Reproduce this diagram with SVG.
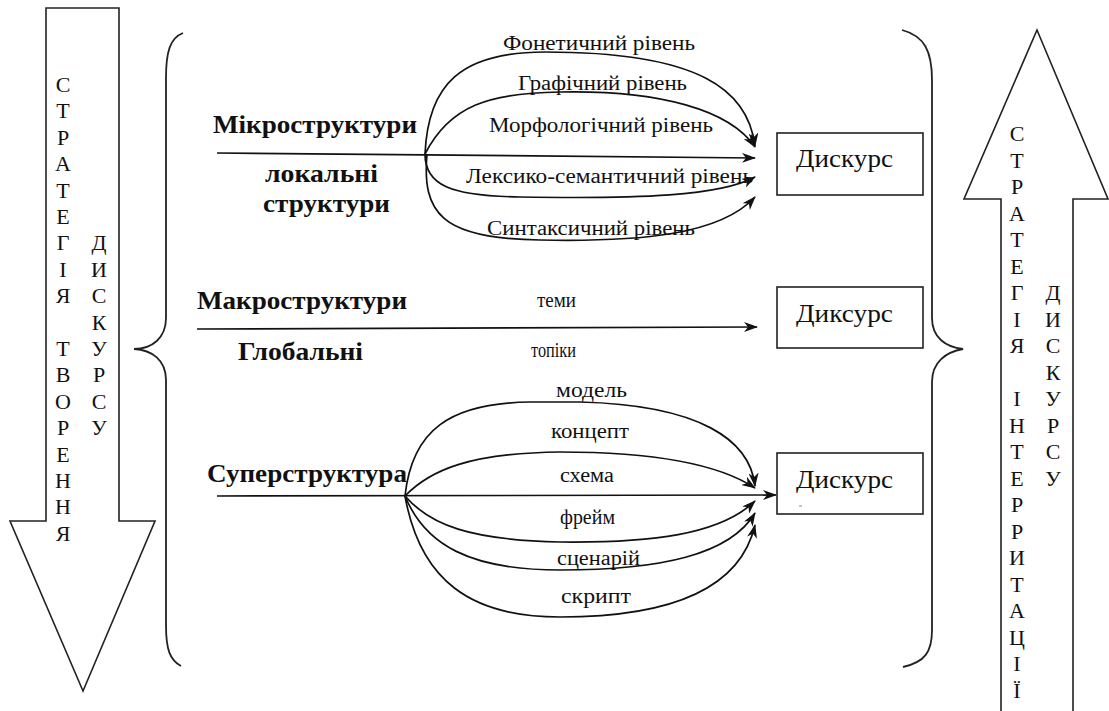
<svg xmlns="http://www.w3.org/2000/svg" width="1109" height="711" viewBox="0 0 1109 711">
<style>
  .sh{fill:#fff;stroke:#222;stroke-width:1.6}
  .br{fill:none;stroke:#222;stroke-width:1.8}
  .c{fill:none;stroke:#111;stroke-width:1.7}
  .box{fill:#fff;stroke:#222;stroke-width:1.6}
  text{font-family:'Liberation Serif','Times New Roman','DejaVu Serif',serif;fill:#111}
  .v{font-size:22px;text-anchor:middle}
  .b{font-size:26px;font-weight:bold}
  .l{font-size:20px}
  .d{font-size:25px}
</style>
<defs>
  <marker id="ah" viewBox="0 0 14 10" refX="13" refY="5" markerWidth="14" markerHeight="10" markerUnits="userSpaceOnUse" orient="auto">
    <path d="M0,0 L14,5 L0,10 L4,5 z" fill="#111"/>
  </marker>
</defs>

<g id="left-arrow">
  <polygon class="sh" points="46,8 119,8 119,521 155,521 83,691 10,521 46,521"/>
  <g>
    <text class="v" x="63" y="92">С</text><text class="v" x="63" y="118">Т</text><text class="v" x="63" y="145">Р</text><text class="v" x="63" y="171">А</text><text class="v" x="63" y="198">Т</text><text class="v" x="63" y="224">Е</text><text class="v" x="63" y="250">Г</text><text class="v" x="63" y="277">І</text><text class="v" x="63" y="303">Я</text>
    <text class="v" x="63" y="356">Т</text><text class="v" x="63" y="382">В</text><text class="v" x="63" y="409">О</text><text class="v" x="63" y="435">Р</text><text class="v" x="63" y="462">Е</text><text class="v" x="63" y="488">Н</text><text class="v" x="63" y="514">Н</text><text class="v" x="63" y="541">Я</text>
    <text class="v" x="99" y="250">Д</text><text class="v" x="99" y="277">И</text><text class="v" x="99" y="303">С</text><text class="v" x="99" y="330">К</text><text class="v" x="99" y="356">У</text><text class="v" x="99" y="382">Р</text><text class="v" x="99" y="409">С</text><text class="v" x="99" y="435">У</text>
  </g>
</g>

<g id="right-arrow">
  <polygon class="sh" points="1037,30 1108,199 1073,199 1073,716 1001,716 1001,199 964,199"/>
  <g>
    <text class="v" x="1017" y="141">С</text><text class="v" x="1017" y="168">Т</text><text class="v" x="1017" y="194">Р</text><text class="v" x="1017" y="221">А</text><text class="v" x="1017" y="247">Т</text><text class="v" x="1017" y="274">Е</text><text class="v" x="1017" y="300">Г</text><text class="v" x="1017" y="327">І</text><text class="v" x="1017" y="353">Я</text>
    <text class="v" x="1017" y="406">І</text><text class="v" x="1017" y="433">Н</text><text class="v" x="1017" y="459">Т</text><text class="v" x="1017" y="486">Е</text><text class="v" x="1017" y="512">Р</text><text class="v" x="1017" y="539">Р</text><text class="v" x="1017" y="565">И</text><text class="v" x="1017" y="592">Т</text><text class="v" x="1017" y="618">А</text><text class="v" x="1017" y="645">Ц</text><text class="v" x="1017" y="671">І</text><text class="v" x="1017" y="698">Ї</text>
    <text class="v" x="1053" y="300">Д</text><text class="v" x="1053" y="327">И</text><text class="v" x="1053" y="353">С</text><text class="v" x="1053" y="380">К</text><text class="v" x="1053" y="406">У</text><text class="v" x="1053" y="433">Р</text><text class="v" x="1053" y="459">С</text><text class="v" x="1053" y="486">У</text>
  </g>
</g>

<g id="left-brace">
  <path class="br" d="M183,33 C170,38 166,52 166,78 L166,318 C166,338 152,349 134,349 C152,350 166,360 166,380 L166,625 C166,650 170,660 181,666"/>
</g>
<g id="right-brace">
  <path class="br" d="M902,30 C925,36 932,52 932,80 L932,318 C932,338 946,347 963,349 C946,352 932,362 932,382 L932,630 C932,652 925,662 903,667"/>
</g>

<g id="connectors">
  <line class="c" x1="217" y1="153" x2="755" y2="158" marker-end="url(#ah)"/>
  <path class="c" d="M425,154 C428,85 460,52 545,52 C700,52 748,90 755,146" marker-end="url(#ah)"/>
  <path class="c" d="M425,154 C450,105 490,93 560,92 C660,90 730,110 755,147" marker-end="url(#ah)"/>
  <path class="c" d="M425,154 C425,185 450,196 520,197 C640,199 720,196 755,177" marker-end="url(#ah)"/>
  <path class="c" d="M427,154 C422,212 440,239 540,240 C640,242 720,235 755,197" marker-end="url(#ah)"/>

  <line class="c" x1="197" y1="329" x2="757" y2="327" marker-end="url(#ah)"/>

  <line class="c" x1="217" y1="496" x2="776" y2="495" marker-end="url(#ah)"/>
  <path class="c" d="M405,496 C412,430 450,403 530,402 L580,402 C700,405 750,440 755,486" marker-end="url(#ah)"/>
  <path class="c" d="M405,496 C430,470 470,453 560,452 C660,452 720,465 755,488" marker-end="url(#ah)"/>
  <path class="c" d="M405,496 C430,525 470,540 560,542 C650,543 720,535 755,501" marker-end="url(#ah)"/>
  <path class="c" d="M405,496 C425,545 470,570 560,570 C660,570 730,555 755,513" marker-end="url(#ah)"/>
  <path class="c" d="M405,496 C420,580 470,617 560,617 C670,617 740,590 755,525" marker-end="url(#ah)"/>
</g>

<g id="micro-labels">
  <text class="b" x="213" y="133" textLength="204" lengthAdjust="spacingAndGlyphs">Мікроструктури</text>
  <text class="b" x="265" y="182" textLength="113" lengthAdjust="spacingAndGlyphs">локальні</text>
  <text class="b" x="263" y="212" textLength="127" lengthAdjust="spacingAndGlyphs">структури</text>
  <text class="l" x="503" y="50" textLength="192" lengthAdjust="spacingAndGlyphs">Фонетичний рівень</text>
  <text class="l" x="518" y="90" textLength="169" lengthAdjust="spacingAndGlyphs">Графічний рівень</text>
  <text class="l" x="489" y="132" textLength="224" lengthAdjust="spacingAndGlyphs">Морфологічний рівень</text>
  <text class="l" x="466" y="183" textLength="287" lengthAdjust="spacingAndGlyphs">Лексико-семантичний рівень</text>
  <text class="l" x="487" y="235" textLength="208" lengthAdjust="spacingAndGlyphs">Синтаксичний рівень</text>
</g>

<g id="macro-labels">
  <text class="b" x="197" y="309" textLength="210" lengthAdjust="spacingAndGlyphs">Макроструктури</text>
  <text class="b" x="238" y="360" textLength="125" lengthAdjust="spacingAndGlyphs">Глобальні</text>
  <text class="l" x="537" y="307" textLength="39" lengthAdjust="spacingAndGlyphs">теми</text>
  <text class="l" x="531" y="357" textLength="45" lengthAdjust="spacingAndGlyphs">топіки</text>
</g>

<g id="super-labels">
  <text class="b" x="207" y="482" textLength="200" lengthAdjust="spacingAndGlyphs">Суперструктура</text>
  <text class="l" x="556" y="397" textLength="71" lengthAdjust="spacingAndGlyphs">модель</text>
  <text class="l" x="551" y="438" textLength="78" lengthAdjust="spacingAndGlyphs">концепт</text>
  <text class="l" x="560" y="482" textLength="54" lengthAdjust="spacingAndGlyphs">схема</text>
  <text class="l" x="560" y="524" textLength="55" lengthAdjust="spacingAndGlyphs">фрейм</text>
  <text class="l" x="557" y="565" textLength="83" lengthAdjust="spacingAndGlyphs">сценарій</text>
  <text class="l" x="561" y="603" textLength="70" lengthAdjust="spacingAndGlyphs">скрипт</text>
</g>

<g id="box1">
  <rect class="box" x="777" y="133" width="146" height="62"/>
  <text class="d" x="796" y="167" textLength="97" lengthAdjust="spacingAndGlyphs">Дискурс</text>
</g>
<g id="box2">
  <rect class="box" x="777" y="287" width="146" height="61"/>
  <text class="d" x="796" y="322" textLength="97" lengthAdjust="spacingAndGlyphs">Диксурс</text>
</g>
<g id="box3">
  <rect class="box" x="777" y="453" width="146" height="61"/>
  <text class="d" x="796" y="488" textLength="97" lengthAdjust="spacingAndGlyphs">Дискурс</text>
  <line x1="799" y1="506" x2="802" y2="506" stroke="#888" stroke-width="1"/>
</g>
</svg>
